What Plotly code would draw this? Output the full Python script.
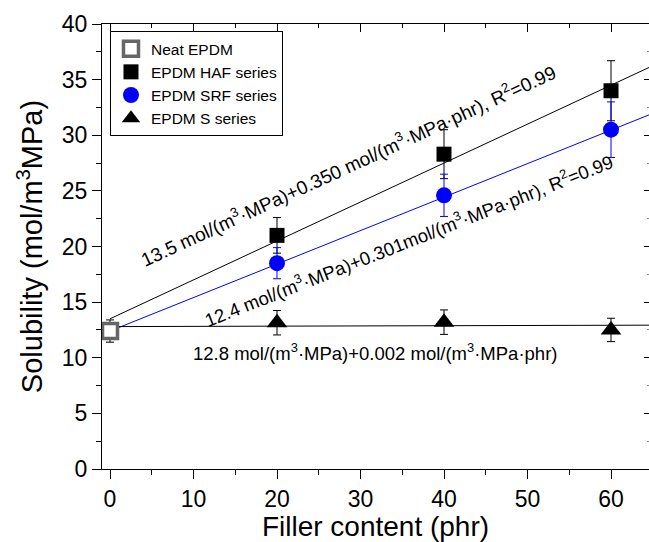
import plotly.graph_objects as go

# ---- data ----
filler = [20, 40, 60]
neat_x = [0]
neat_y = [12.4]
neat_err = [1.0]
haf_y = [21.0, 28.3, 34.0]
haf_err = [1.6, 2.2, 2.7]
srf_y = [18.5, 24.6, 30.5]
srf_err = [1.4, 1.9, 2.5]
s_y = [13.15, 13.2, 12.5]
s_err = [1.1, 1.1, 1.05]

# linear fits (intercept, slope)
haf_fit = (13.5, 0.350)
srf_fit = (12.4, 0.301)
s_fit = (12.8, 0.002)
fit_x = [0, 66]

x_ticks = [0, 10, 20, 30, 40, 50, 60]
y_ticks = [0, 5, 10, 15, 20, 25, 30, 35, 40]

FONT = "Arial, Liberation Sans, sans-serif"
xr = [-0.958, 64.55]
yr = [0, 40]

fig = go.Figure()

def fit_line(p, color):
    return go.Scatter(x=fit_x, y=[p[0] + p[1] * v for v in fit_x], mode="lines",
                      line=dict(color=color, width=1), showlegend=False, hoverinfo="skip")

fig.add_trace(fit_line(haf_fit, "black"))
fig.add_trace(fit_line(srf_fit, "#0000FF"))
fig.add_trace(fit_line(s_fit, "black"))

fig.add_trace(go.Scatter(x=neat_x, y=neat_y, mode="markers", name="Neat EPDM",
                         marker=dict(symbol="square", size=15, color="white",
                                     line=dict(color="#666666", width=3.5)),
                         error_y=dict(type="data", array=neat_err, color="black", thickness=1, width=4)))
fig.add_trace(go.Scatter(x=filler, y=haf_y, mode="markers", name="EPDM HAF series",
                         marker=dict(symbol="square", size=15, color="black"),
                         error_y=dict(type="data", array=haf_err, color="black", thickness=1, width=4)))
fig.add_trace(go.Scatter(x=filler, y=srf_y, mode="markers", name="EPDM SRF series",
                         marker=dict(symbol="circle", size=16, color="#0000FF"),
                         error_y=dict(type="data", array=srf_err, color="#0000FF", thickness=1, width=4)))
fig.add_trace(go.Scatter(x=filler, y=s_y, mode="markers", name="EPDM S series",
                         marker=dict(symbol="triangle-up", size=18, color="black"),
                         error_y=dict(type="data", array=s_err, color="black", thickness=1, width=4)))

# helper trace for top/right mirrored axes with inward ticks
fig.add_trace(go.Scatter(x=[None], y=[None], xaxis="x2", yaxis="y2", showlegend=False, hoverinfo="skip"))

ann_font = dict(family=FONT, size=18.5, color="black")
fig.add_annotation(x=28.5, y=27.3, xref="x", yref="y", showarrow=False, textangle=-24.7,
                   text="13.5 mol/(m<sup>3</sup>·MPa)+0.350 mol/(m<sup>3</sup>·MPa·phr), R<sup>2</sup>=0.99",
                   font=dict(family=FONT, size=19, color="black"))
fig.add_annotation(x=35.7, y=20.58, xref="x", yref="y", showarrow=False, textangle=-21.5,
                   text="12.4 mol/(m<sup>3</sup>·MPa)+0.301mol/(m<sup>3</sup>·MPa·phr), R<sup>2</sup>=0.99",
                   font=ann_font)
fig.add_annotation(x=31.7, y=10.5, xref="x", yref="y", showarrow=False,
                   text="12.8 mol/(m<sup>3</sup>·MPa)+0.002 mol/(m<sup>3</sup>·MPa·phr)",
                   font=ann_font)

tickfont = dict(family=FONT, size=23, color="black")
fig.update_layout(
    width=649, height=542,
    margin=dict(l=102, r=0, t=24, b=73),
    paper_bgcolor="white", plot_bgcolor="white",
    font=dict(family=FONT, color="black"),
    showlegend=True,
    legend=dict(x=0.0146, y=0.984, xanchor="left", yanchor="top",
                bgcolor="white", bordercolor="black", borderwidth=1,
                font=dict(family=FONT, size=15.5, color="black"),
                tracegroupgap=0, itemsizing="trace"),
    xaxis=dict(range=xr, tickvals=x_ticks, ticktext=[str(v) for v in x_ticks],
               ticks="outside", ticklen=9, tickwidth=1, tickcolor="black",
               showline=True, linecolor="black", linewidth=1, showgrid=False, zeroline=False,
               tickfont=tickfont,
               minor=dict(dtick=5, tick0=0, ticks="outside", ticklen=5, tickcolor="black", showgrid=False),
               title=dict(text="Filler content (phr)", font=dict(family=FONT, size=28, color="black"),
                          standoff=4)),
    yaxis=dict(range=yr, tickvals=y_ticks, ticktext=[str(v) for v in y_ticks],
               ticks="outside", ticklen=9, tickwidth=1, tickcolor="black",
               showline=True, linecolor="black", linewidth=1, showgrid=False, zeroline=False,
               tickfont=tickfont,
               minor=dict(dtick=2.5, tick0=0, ticks="outside", ticklen=5, tickcolor="black", showgrid=False),
               title=dict(text="Solubility (mol/m<sup>3</sup>MPa)", font=dict(family=FONT, size=29, color="black"),
                          standoff=10)),
    xaxis2=dict(range=xr, overlaying="x", side="top", anchor="y2", tickvals=x_ticks,
                ticks="inside", ticklen=8, tickcolor="black", showticklabels=False,
                showline=True, linecolor="black", linewidth=1, showgrid=False, zeroline=False,
                minor=dict(dtick=5, tick0=0, ticks="inside", ticklen=4, tickcolor="black", showgrid=False)),
    yaxis2=dict(range=yr, overlaying="y", side="right", anchor="x2", tickvals=y_ticks,
                ticks="inside", ticklen=5, tickcolor="black", showticklabels=False,
                showline=False, showgrid=False, zeroline=False,
                minor=dict(dtick=2.5, tick0=0, ticks="inside", ticklen=2, tickcolor="#888", showgrid=False)),
)

fig.write_html("out.html")
